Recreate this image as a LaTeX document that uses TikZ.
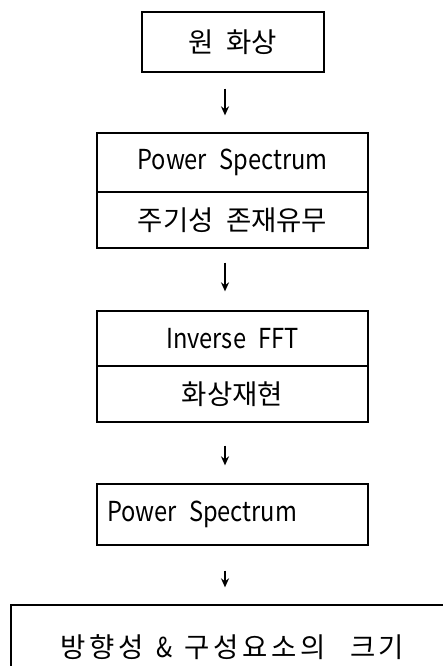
\documentclass[tikz,border=0pt]{standalone}
\usepackage{fontspec}
\setmainfont{Noto Sans CJK KR}
\newfontfamily\latfont[FakeStretch=0.86]{Noto Sans CJK KR}
\newfontfamily\widefont[LetterSpace=13]{Noto Sans CJK KR}
\newcommand{\kgap}{\hspace{0.45em}}
\newcommand{\lt}[1]{{\latfont #1}}
\usetikzlibrary{arrows.meta}
\begin{document}
\begin{tikzpicture}[x=1pt,y=-1pt,
  every node/.style={font=\fontsize{27.5}{32}\selectfont},
  boxnode/.style={draw, line width=1.3pt, inner sep=0pt, minimum width=271pt, anchor=center},
  arr/.style={line width=1.5pt, -{Stealth[length=9pt,width=8pt]}}]
\clip (0,0) rectangle (443,666);
\useasboundingbox (0,0) rectangle (443,666);
% boxes
\node[boxnode, minimum width=182pt, minimum height=60pt] (b1) at (233,42) {원\kgap 화상};
\node[boxnode, minimum height=59pt] (b2a) at (232.5,162.5) {\lt{Power\kgap Spectrum}\hspace{15pt}};
\node[boxnode, minimum height=56pt] (b2b) at (232.5,220) {주기성\kgap 존재유무};
\node[boxnode, minimum height=55pt] (b3a) at (232.5,338.5) {\lt{Inverse\kgap FFT}\hspace{5pt}};
\node[boxnode, minimum height=56pt] (b3b) at (232.5,394) {화상재현};
\node[boxnode, minimum height=61pt, text width=251pt, align=left, inner xsep=10pt] (b4) at (232.5,514.5) {\lt{Power\kgap Spectrum}};
\node[boxnode, minimum width=443pt, minimum height=84pt] (b5) at (232.5,647) {\widefont 방향성\kgap\lt{\&}\kgap 구성요소의\kgap\kgap 크기};
% arrows
\coordinate (ax) at (225,0);
\draw[arr, shorten <=16pt, shorten >=17pt] (b1.south -| ax) -- (b2a.north -| ax);
\draw[arr, shorten <=14pt, shorten >=19pt] (b2b.south -| ax) -- (b3a.north -| ax);
\draw[arr, shorten <=23pt, shorten >=18pt] (b3b.south -| ax) -- (b4.north -| ax);
\draw[arr, shorten <=25pt, shorten >=17pt] (b4.south -| ax) -- (b5.north -| ax);
\end{tikzpicture}
\end{document}
